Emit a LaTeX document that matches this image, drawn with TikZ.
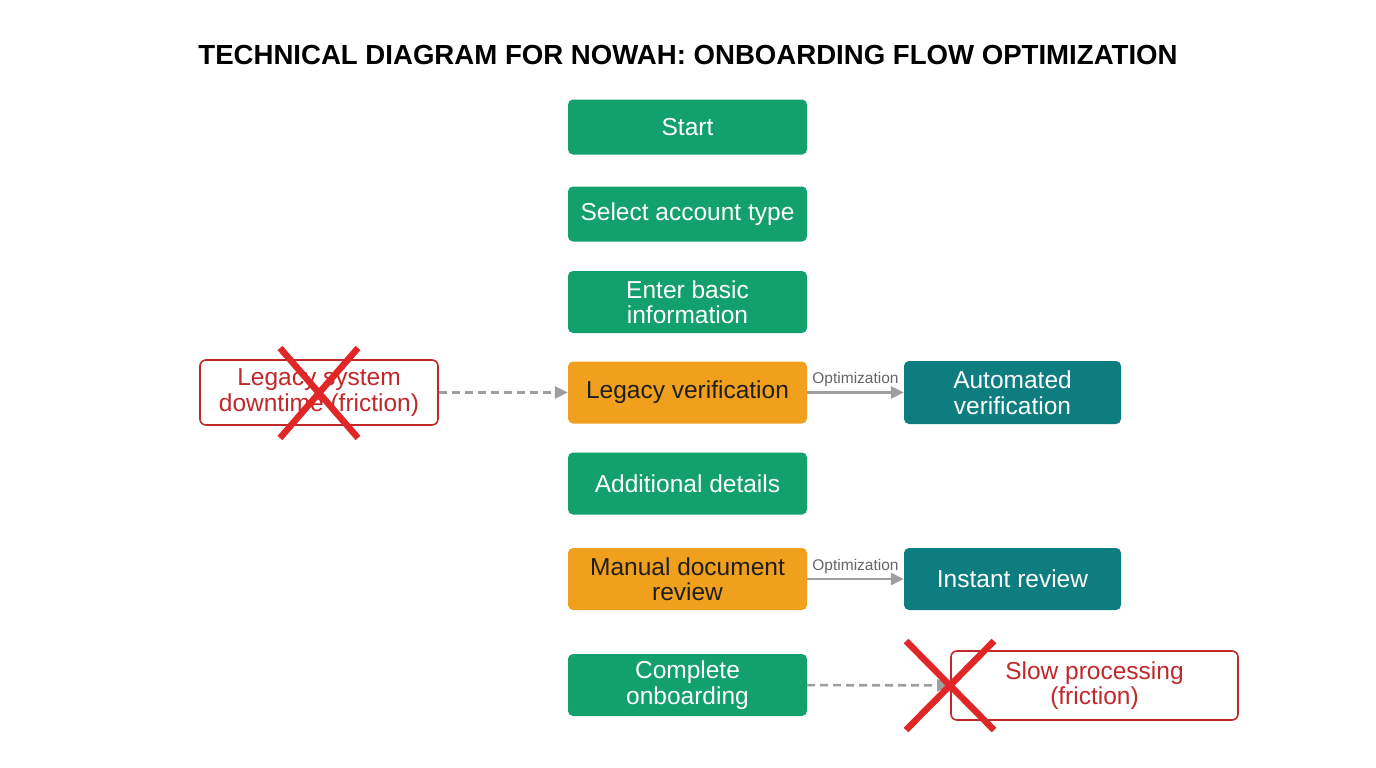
\documentclass[tikz,border=0pt]{standalone}
\usepackage{fontspec}
\setmainfont{Liberation Sans}
\usepackage{xcolor}
\usetikzlibrary{positioning,arrows.meta}
\definecolor{stepgreen}{HTML}{12A06C}
\definecolor{steporange}{HTML}{F0A01C}
\definecolor{stepteal}{HTML}{0E7D80}
\definecolor{frictred}{HTML}{C0282C}
\definecolor{crossred}{HTML}{E02626}
\definecolor{linkgray}{HTML}{9E9E9E}

\tikzset{
    stepbox/.style={rectangle, rounded corners=5pt, draw=none, fill=stepgreen, text=white,
        minimum width=239pt, minimum height=#1, align=center, font=\fontsize{24.5}{25.5}\selectfont},
    stepbox/.default=55pt,
    slowbox/.style={stepbox=62pt, fill=steporange, text=black!88},
    fastbox/.style={stepbox=63pt, fill=stepteal, minimum width=217pt},
    frictbox/.style={rectangle, rounded corners=6pt, draw=frictred, line width=1.6pt, fill=white,
        text=frictred, align=center, font=\fontsize{24.5}{25.5}\selectfont},
    optlink/.style={-{Triangle[length=13pt,width=12pt]}, linkgray, line width=2.6pt},
    frictlink/.style={optlink, dashed, dash pattern=on 8pt off 5pt},
    crossline/.style={crossred, line width=6.5pt}
}

\begin{document}
\begin{tikzpicture}[x=1pt,y=-1pt]
    \useasboundingbox (0,0) rectangle (1376,768);

    \node[font=\bfseries\fontsize{27.6}{32}\selectfont] (title) at (688,55)
        {TECHNICAL DIAGRAM FOR NOWAH: ONBOARDING FLOW OPTIMIZATION};

    % Main flow
    \node[stepbox] (start) at (687.5,127) {Start};
    \node[stepbox] (select) at (687.5,214) {Select account type};
    \node[stepbox=62pt] (basic) at (687.5,302) {Enter basic\\information};
    \node[slowbox] (legacy) at (687.5,392.5) {Legacy verification};
    \node[stepbox=62pt] (details) at (687.5,483.5) {Additional details};
    \node[slowbox] (manual) at (687.5,579) {Manual document\\review};
    \node[stepbox=62pt] (complete) at (687.5,685) {Complete\\onboarding};

    % Optimized steps
    \node[fastbox] (auto) at (1012.5,392.5) {Automated\\verification};
    \node[fastbox, minimum height=62pt] (instant) at (1012.5,579) {Instant review};

    % Friction points
    \node[frictbox, minimum width=238pt, minimum height=65pt] (downtime) at (319,392.5)
        {Legacy system\\downtime (friction)};
    \node[frictbox, minimum width=287pt, minimum height=69pt] (slow) at (1094.5,685.5)
        {Slow processing\\(friction)};

    % Links
    \draw[frictlink] (downtime) -- (legacy);
    \draw[frictlink] (complete) -- (slow);
    \draw[optlink] (legacy) -- node[above=1pt, text=black!60, font=\fontsize{15.5}{17}\selectfont] {Optimization} (auto);
    \draw[optlink] (manual) -- node[above=1pt, text=black!60, font=\fontsize{15.5}{17}\selectfont] {Optimization} (instant);

    % Crosses
    \draw[crossline] (280,348) -- (358,438) (358,348) -- (280,438);
    \draw[crossline] (906,641) -- (994,730) (994,641) -- (906,730);
\end{tikzpicture}
\end{document}
